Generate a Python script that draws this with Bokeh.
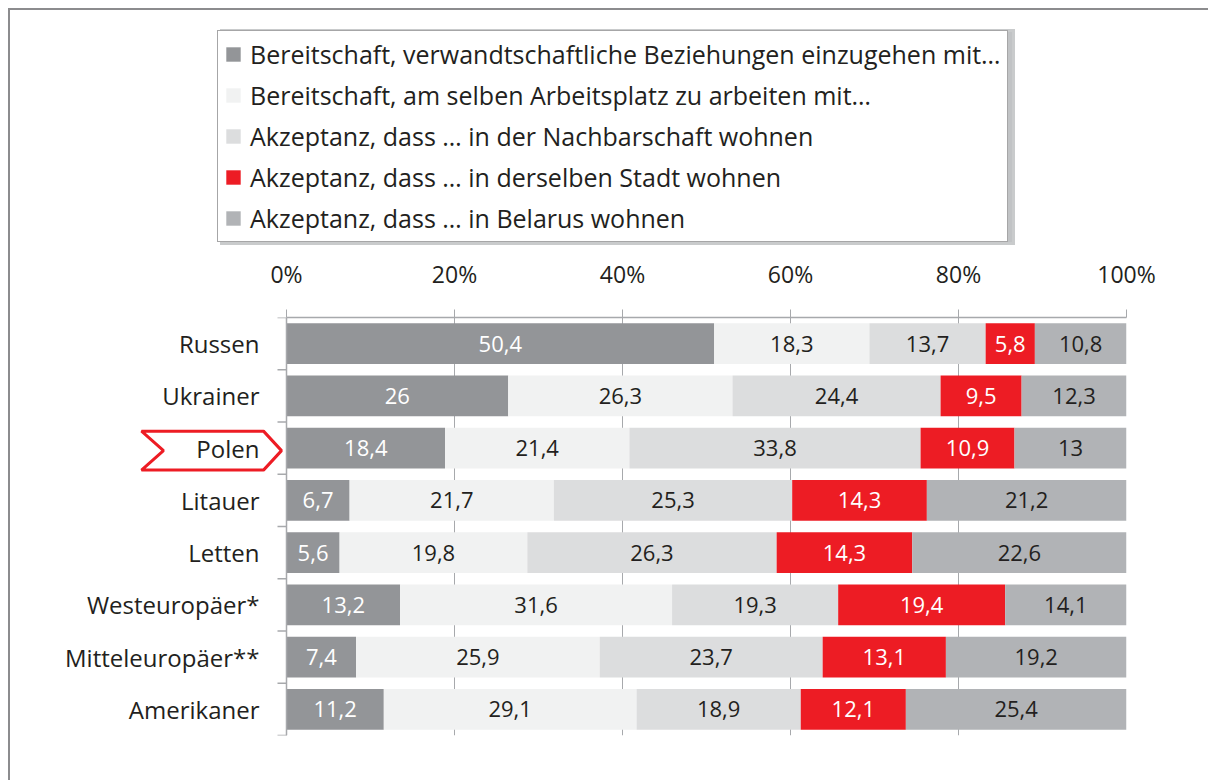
from bokeh.plotting import figure
from bokeh.layouts import column
from bokeh.models import (ColumnDataSource, FactorRange, Range1d, FixedTicker,
                          PrintfTickFormatter, Legend, LegendItem)
from bokeh.core.properties import value
from bokeh.embed import file_html
from bokeh.resources import INLINE

# ---------------- data ----------------
categories = ["Russen", "Ukrainer", "Polen", "Litauer", "Letten",
              "Westeuropäer*", "Mitteleuropäer**", "Amerikaner"]
series_labels = [
    "Bereitschaft, verwandtschaftliche Beziehungen einzugehen mit…",
    "Bereitschaft, am selben Arbeitsplatz zu arbeiten mit…",
    "Akzeptanz, dass … in der Nachbarschaft wohnen",
    "Akzeptanz, dass … in derselben Stadt wohnen",
    "Akzeptanz, dass … in Belarus wohnen",
]
verwandtschaft = [50.4, 26, 18.4, 6.7, 5.6, 13.2, 7.4, 11.2]
arbeitsplatz = [18.3, 26.3, 21.4, 21.7, 19.8, 31.6, 25.9, 29.1]
nachbarschaft = [13.7, 24.4, 33.8, 25.3, 26.3, 19.3, 23.7, 18.9]
stadt = [5.8, 9.5, 10.9, 14.3, 14.3, 19.4, 13.1, 12.1]
belarus = [10.8, 12.3, 13, 21.2, 22.6, 14.1, 19.2, 25.4]
x_ticks = [0, 20, 40, 60, 80, 100]
highlight = "Polen"

series = [verwandtschaft, arbeitsplatz, nachbarschaft, stadt, belarus]
colors = ["#939598", "#f1f2f2", "#dcddde", "#ed1c24", "#b1b3b6"]
text_colors = ["#ffffff", "#231f20", "#231f20", "#ffffff", "#231f20"]
FONT = "Open Sans"
DARK = "#231f20"
GRID = "#a7a9ac"
FRAME_LINE = "#8c8c8e"

# ---------------- geometry (page pixels) ----------------
OFF = 10                      # page frame: margin + border width
W = 1208 - OFF
TOP_H = 250 - OFF             # legend strip
CHART_H = 780 - 250
PX = 8.4                      # pixels per percent
X0_PAGE = 286                 # page x of 0 %
FRAME_LEFT = 20               # local x of the plot frame's left edge
x_start = -((X0_PAGE - OFF) - FRAME_LEFT) / PX

# ---------------- chart figure ----------------
p = figure(width=W, height=CHART_H,
           x_range=Range1d(x_start, 100),
           y_range=FactorRange(factors=list(reversed(categories))),
           x_axis_location="above", y_axis_location=None,
           min_border_left=FRAME_LEFT, min_border_right=W - (X0_PAGE - OFF + 840),
           min_border_top=317 - 250, min_border_bottom=45,
           output_backend="svg", toolbar_location=None)
p.outline_line_color = None
p.background_fill_color = "white"
p.border_fill_color = "white"

ax = p.xaxis[0]
ax.ticker = FixedTicker(ticks=x_ticks)
ax.formatter = PrintfTickFormatter(format="%d%%")
ax.bounds = (0, 100)
ax.axis_line_color = GRID
ax.axis_line_width = 1.5
ax.major_tick_line_color = GRID
ax.major_tick_out = 8
ax.major_tick_in = 0
ax.minor_tick_line_color = None
ax.major_label_text_font = FONT
ax.major_label_text_font_size = "23px"
ax.major_label_text_color = DARK
ax.major_label_standoff = 20

p.xgrid.ticker = FixedTicker(ticks=x_ticks)
p.xgrid.grid_line_color = GRID
p.xgrid.grid_line_width = 1
p.ygrid.visible = False

# stacked bars, normalized to 100 %
totals = [sum(vals) for vals in zip(*series)]
data = {"cat": categories}
left = [0.0] * len(categories)
for i, vals in enumerate(series):
    shares = [v / t * 100 for v, t in zip(vals, totals)]
    right = [l + s for l, s in zip(left, shares)]
    data[f"l{i}"] = left
    data[f"r{i}"] = right
    data[f"m{i}"] = [(l + r) / 2 for l, r in zip(left, right)]
    data[f"t{i}"] = [str(v).replace(".", ",") for v in vals]
    left = right
src = ColumnDataSource(data)

for i in range(len(series)):
    p.hbar(y="cat", left=f"l{i}", right=f"r{i}", height=0.78,
           fill_color=colors[i], line_color=None, source=src)
    p.text(x=f"m{i}", y="cat", text=f"t{i}", source=src,
           text_align="center", text_baseline="middle",
           text_color=text_colors[i], text_font=value(FONT),
           text_font_size="22px")

# left axis line with ticks at category boundaries
n = len(categories)
p.segment(x0=[0], y0=[0], x1=[0], y1=[n], line_color=GRID, line_width=1.5)
p.segment(x0=[-9 / PX] * (n + 1), y0=list(range(n + 1)),
          x1=[0] * (n + 1), y1=list(range(n + 1)),
          line_color=GRID, line_width=1.5)

# highlight chevron around "Polen"
hi = list(reversed(categories)).index(highlight) + 0.5
up = 17 / 52.25
dn = 22 / 52.25
cx = [(px - X0_PAGE) / PX for px in (141, 263, 281, 263, 141, 163)]
cy = [hi + up, hi + up, hi - (dn - up) / 2, hi - dn, hi - dn, hi - (dn - up) / 2]
p.patch(x=cx, y=cy, fill_color="white", line_color="#ed1c24", line_width=3)

# category labels
p.text(x=[0] * n, y=categories, text=categories, x_offset=-27,
       text_align="right", text_baseline="middle", text_color=DARK,
       text_font=value(FONT), text_font_size="24px")

# ---------------- legend figure ----------------
top = figure(width=W, height=TOP_H, x_range=Range1d(0, 1), y_range=Range1d(0, 1),
             x_axis_location=None, y_axis_location=None,
             min_border=0, output_backend="svg", toolbar_location=None)
top.outline_line_color = None
top.grid.visible = False
top.background_fill_color = "white"
top.border_fill_color = "white"
# swatch renderers (kept outside the visible range; used only by the legend)
swatches = [top.hbar(y=[-5], left=[-5], right=[-4], height=1, fill_color=c,
                     line_color=None) for c in colors]

LEG_X = 197 - OFF
LEG_Y = 8


def make_legend(loc, shadow=False):
    lg = Legend(items=[LegendItem(label=lab, renderers=[r])
                       for lab, r in zip(series_labels, swatches)],
                location=loc, orientation="vertical",
                label_text_font=FONT, label_text_font_size="25px",
                label_text_color=DARK, label_height=30,
                glyph_height=18, glyph_width=18, label_standoff=8,
                spacing=7, padding=6, margin=0)
    if shadow:
        lg.background_fill_color = "#a7a9ac"
        lg.background_fill_alpha = 0.7
        lg.border_line_color = "#d1d3d4"
        lg.border_line_width = 3
        lg.label_text_alpha = 0
    else:
        lg.background_fill_color = "white"
        lg.background_fill_alpha = 1
        lg.border_line_color = "#4d4d4f"
        lg.border_line_width = 1.5
    return lg


top.add_layout(make_legend((LEG_X + 3, LEG_Y - 3), shadow=True), "center")
top.add_layout(make_legend((LEG_X, LEG_Y)), "center")

layout = column(top, p, spacing=0,
                styles={"margin-left": "8px", "margin-top": "8px",
                        "border-left": f"2px solid {FRAME_LINE}",
                        "border-top": f"2px solid {FRAME_LINE}"})
open("out.html", "w").write(file_html(layout, INLINE))
